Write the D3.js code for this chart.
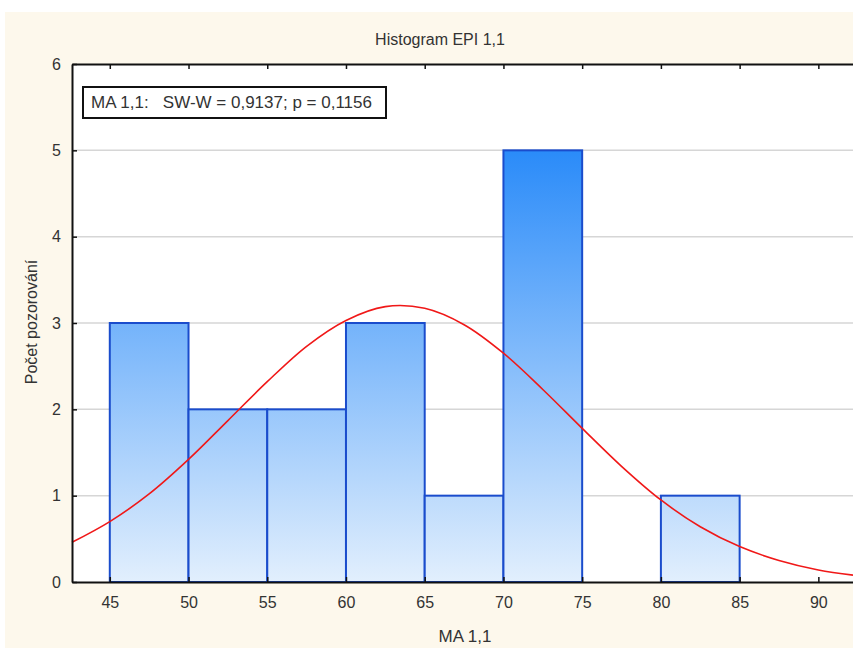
<!DOCTYPE html>
<html>
<head>
<meta charset="utf-8">
<script src="https://cdn.jsdelivr.net/npm/d3@7"></script>
<style>
  body { margin: 0; background: #fff; }
  text { font-family: "Liberation Sans", Arial, sans-serif; fill: #333; }
</style>
</head>
<body>
<div id="chart"></div>
<script>
// histogram bins (lower edge, width 5) and counts
var binStarts = [45, 50, 55, 60, 65, 70, 75, 80]
var binCounts = [3, 2, 2, 3, 1, 5, 0, 1]
var binWidth = 5

// fitted normal curve
var curveX = [42.6, 45, 47.5, 50, 52.5, 55, 57.5, 60, 62.5, 65, 67.5, 70, 72.5, 75, 77.5, 80, 82.5, 85, 87.5, 90, 92.2]
var curveY = [0.46, 0.70, 1.02, 1.42, 1.87, 2.32, 2.73, 3.03, 3.19, 3.17, 2.98, 2.65, 2.23, 1.78, 1.34, 0.95, 0.64, 0.41, 0.25, 0.14, 0.08]

var xTicks = [45, 50, 55, 60, 65, 70, 75, 80, 85, 90]
var yTicks = [0, 1, 2, 3, 4, 5, 6]

var titleText = "Histogram EPI 1,1"
var legendText = "MA 1,1:   SW-W = 0,9137; p = 0,1156"
var xLabel = "MA 1,1"
var yLabel = "Počet pozorování"

var W = 853, H = 648
var margin = { top: 64, left: 72, right: 0, bottom: 66 }
var width = W - margin.left - margin.right,
    height = H - margin.top - margin.bottom

var svg = d3.select("#chart").append("svg")
  .attr("width", W).attr("height", H)

// cream page background
svg.append("rect").attr("x", 5).attr("y", 12).attr("width", W - 5).attr("height", H - 12)
  .attr("fill", "#fdf8ec")

var g = svg.append("g").attr("transform", "translate(" + margin.left + "," + margin.top + ")")

var x = d3.scaleLinear().domain([42.6, 92.2]).range([0, width])
var y = d3.scaleLinear().domain([0, 6]).range([height, 0])

// plot area
g.append("rect").attr("width", width).attr("height", height).attr("fill", "#fff")

// gradient for bars, tied to y values
var grad = svg.append("defs").append("linearGradient")
  .attr("id", "barGrad").attr("gradientUnits", "userSpaceOnUse")
  .attr("x1", 0).attr("x2", 0).attr("y1", y(5)).attr("y2", y(0))
grad.append("stop").attr("offset", "0%").attr("stop-color", "#2a8bf9")
grad.append("stop").attr("offset", "100%").attr("stop-color", "#e2effd")

// gridlines
g.selectAll(".grid").data(yTicks.slice(1, -1)).enter().append("line")
  .attr("x1", 0).attr("x2", width)
  .attr("y1", function(d) { return y(d) }).attr("y2", function(d) { return y(d) })
  .attr("stroke", "#d6d6d6").attr("stroke-width", 1.5)

var bins = binStarts.map(function(s, i) { return { x0: s, x1: s + binWidth, n: binCounts[i] } })
  .filter(function(d) { return d.n > 0 })

g.selectAll(".bar").data(bins).enter().append("rect")
  .attr("x", function(d) { return x(d.x0) })
  .attr("width", function(d) { return x(d.x1) - x(d.x0) })
  .attr("y", function(d) { return y(d.n) })
  .attr("height", function(d) { return y(0) - y(d.n) })
  .attr("fill", "url(#barGrad)")
  .attr("stroke", "#1a4ccc").attr("stroke-width", 2)

// normal curve
var pts = curveX.map(function(v, i) { return [v, curveY[i]] })
var line = d3.line().x(function(d) { return x(d[0]) }).y(function(d) { return y(d[1]) })
  .curve(d3.curveCatmullRom)
g.append("path").datum(pts).attr("d", line)
  .attr("fill", "none").attr("stroke", "#f01818").attr("stroke-width", 1.6)

// axes, ticks pointing inward
var xAxis = d3.axisBottom(x).tickValues(xTicks).tickSize(-5).tickPadding(15).tickSizeOuter(0)
var xa = g.append("g").attr("transform", "translate(0," + height + ")").call(xAxis)
var xTop = d3.axisTop(x).tickValues(xTicks).tickSize(-5).tickFormat("").tickSizeOuter(0)
var xt = g.append("g").call(xTop)
var yAxis = d3.axisLeft(y).tickValues(yTicks).tickFormat(d3.format("d"))
  .tickSize(-5).tickPadding(11).tickSizeOuter(0)
var ya = g.append("g").call(yAxis)

;[xa, xt, ya].forEach(function(a) {
  a.select(".domain").attr("stroke", "#111").attr("stroke-width", 2)
  a.selectAll(".tick line").attr("stroke", "#111").attr("stroke-width", 1.5)
  a.selectAll("text").style("font-size", "16px").attr("fill", "#333")
})

// title and axis labels
svg.append("text").attr("x", 440).attr("y", 45).attr("text-anchor", "middle")
  .style("font-size", "16px").text(titleText)
svg.append("text").attr("x", 465).attr("y", 642).attr("text-anchor", "middle")
  .style("font-size", "17px").text(xLabel)
svg.append("text").attr("transform", "translate(37,322) rotate(-90)").attr("text-anchor", "middle")
  .style("font-size", "16px").text(yLabel)

// legend box
var lg = g.append("g").attr("transform", "translate(11,23)")
lg.append("rect").attr("width", 303).attr("height", 31)
  .attr("fill", "#fff").attr("stroke", "#111").attr("stroke-width", 2)
lg.append("text").attr("x", 8).attr("y", 21).style("font-size", "17px").attr("xml:space", "preserve")
  .text(legendText)
</script>
</body>
</html>
